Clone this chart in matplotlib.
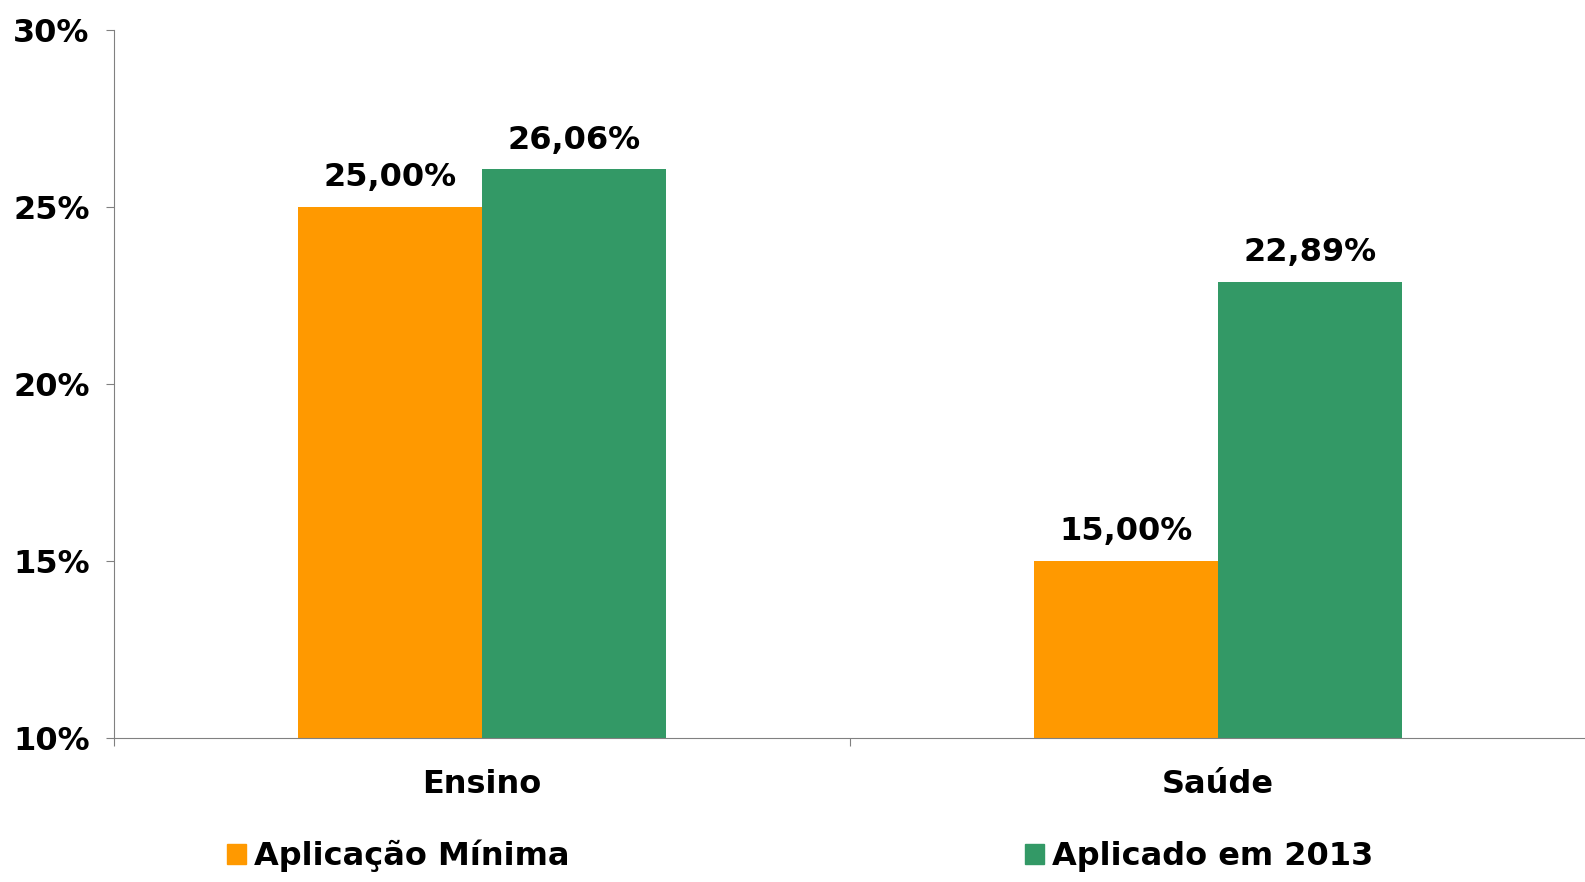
import matplotlib
matplotlib.use('Agg')
import matplotlib.pyplot as plt
from matplotlib.patches import Patch
import numpy as np

# Chart data
categories = ['Ensino', 'Saúde']
series_names = ['Aplicação Mínima', 'Aplicado em 2013']
minimo = [25.00, 15.00]
aplicado = [26.06, 22.89]
yticks = [10, 15, 20, 25, 30]

orange = '#FF9900'
green = '#339966'
fs = 23

plt.rcParams['font.family'] = 'DejaVu Sans'
plt.rcParams['font.weight'] = 'bold'

fig = plt.figure(figsize=(15.85, 8.82), dpi=100)
ax = fig.add_axes([114 / 1585, 1 - 738 / 882, 1472 / 1585, 708 / 882])

x = np.arange(len(categories)) + 0.5
w = 0.25
b1 = ax.bar(x - w / 2, np.array(minimo) - 10, w, bottom=10, color=orange)
b2 = ax.bar(x + w / 2, np.array(aplicado) - 10, w, bottom=10, color=green)

def fmt(v):
    return f'{v:.2f}'.replace('.', ',') + '%'

for bars, vals in ((b1, minimo), (b2, aplicado)):
    for rect, v in zip(bars, vals):
        ax.annotate(fmt(v), (rect.get_x() + rect.get_width() / 2, v),
                    xytext=(0, 10), textcoords='offset points',
                    ha='center', va='bottom', fontsize=fs, fontweight='bold')

ax.set_xlim(0, 2)
ax.set_ylim(10, 30)
ax.set_yticks(yticks)
ax.set_yticklabels([f'{t}%' for t in yticks], fontsize=fs, fontweight='bold')
ax.set_xticks([0, 1, 2])
ax.set_xticklabels([])
ax.set_xticks(x, minor=True)
ax.set_xticklabels(categories, minor=True, fontsize=fs, fontweight='bold')
ax.tick_params(axis='x', which='minor', length=0, pad=22)
ax.tick_params(axis='x', which='major', length=5.5, color='#808080')
ax.tick_params(axis='y', length=5.5, color='#808080', pad=12)

for s in ('top', 'right'):
    ax.spines[s].set_visible(False)
for s in ('left', 'bottom'):
    ax.spines[s].set_color('#808080')

handles = [Patch(color=orange), Patch(color=green)]
fig.legend(handles, series_names, loc='center', ncol=2,
           bbox_to_anchor=(800 / 1585, 1 - 856 / 882), frameon=False,
           prop={'size': fs, 'weight': 'bold'}, handlelength=0.6,
           handleheight=0.6, handletextpad=0.25, columnspacing=14.25)

fig.savefig('out.png', dpi=100)
